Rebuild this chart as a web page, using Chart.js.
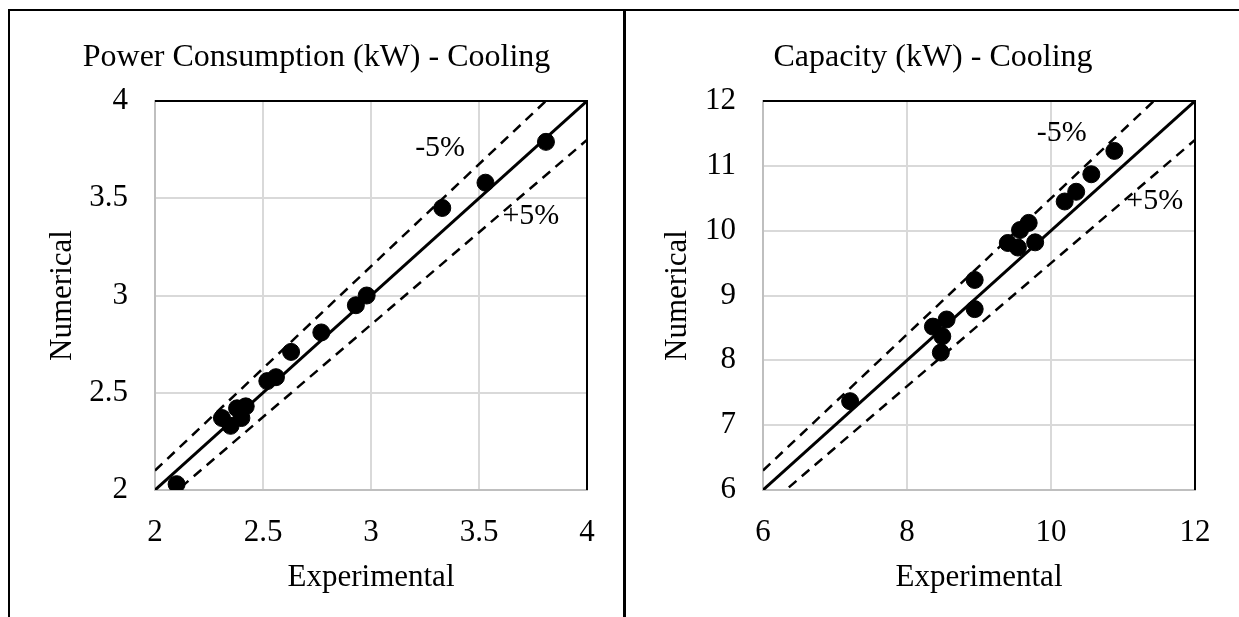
<!DOCTYPE html>
<html>
<head>
<meta charset="utf-8">
<script src="https://cdn.jsdelivr.net/npm/chart.js@4.4.0/dist/chart.umd.min.js"></script>
<style>
    html, body { margin: 0; padding: 0; background: #fff; }
    body { width: 1239px; height: 617px; position: relative; overflow: hidden; }
    .rule { position: absolute; background: #000; }
    .panel { position: absolute; top: 11px; }
</style>
</head>
<body>
<div class="rule" style="left:8px; top:9px; width:1231px; height:2px;"></div>
<div class="rule" style="left:8px; top:9px; width:2px; height:608px;"></div>
<div class="rule" style="left:623px; top:9px; width:3px; height:608px;"></div>

<div class="panel" style="left:10px;"><canvas id="powerChart" width="613" height="606"></canvas></div>
<div class="panel" style="left:627px;"><canvas id="capacityChart" width="612" height="606"></canvas></div>

<script>
// Power consumption (kW) - cooling
const powerExperimental = [2.10, 2.31, 2.35, 2.38, 2.40, 2.42, 2.52, 2.56, 2.63, 2.77, 2.93, 2.98, 3.33, 3.53, 3.81];
const powerNumerical    = [2.03, 2.37, 2.33, 2.42, 2.37, 2.43, 2.56, 2.58, 2.71, 2.81, 2.95, 3.00, 3.45, 3.58, 3.79];
const powerTicks = [2, 2.5, 3, 3.5, 4];
const powerTickLabels = ['2', '2.5', '3', '3.5', '4'];
const powerIdeal = [{ x: 2, y: 2 }, { x: 4, y: 4 }];
const powerMinus5 = [{ x: 2, y: 2.1 }, { x: 4, y: 4.2 }];
const powerPlus5 = [{ x: 2, y: 1.9 }, { x: 4, y: 3.8 }];
const powerLabels = [{ text: '-5%', x: 3.32, y: 3.76 }, { text: '+5%', x: 3.74, y: 3.41 }];

// Capacity (kW) - cooling
const capacityExperimental = [7.21, 8.36, 8.55, 8.49, 8.47, 8.94, 8.94, 9.40, 9.54, 9.57, 9.69, 9.78, 10.19, 10.35, 10.56, 10.88];
const capacityNumerical    = [7.37, 8.52, 8.63, 8.37, 8.12, 9.24, 8.79, 9.81, 9.74, 10.01, 10.12, 9.82, 10.45, 10.60, 10.87, 11.23];
const capacityXTicks = [6, 8, 10, 12];
const capacityXTickLabels = ['6', '8', '10', '12'];
const capacityYTicks = [6, 7, 8, 9, 10, 11, 12];
const capacityYTickLabels = ['6', '7', '8', '9', '10', '11', '12'];
const capacityIdeal = [{ x: 6, y: 6 }, { x: 12, y: 12 }];
const capacityMinus5 = [{ x: 6, y: 6.3 }, { x: 12, y: 12.6 }];
const capacityPlus5 = [{ x: 6, y: 5.7 }, { x: 12, y: 11.4 }];
const capacityLabels = [{ text: '-5%', x: 10.15, y: 11.51 }, { text: '+5%', x: 11.44, y: 10.46 }];

const SERIF = "'Liberation Serif', 'Times New Roman', serif";
Chart.defaults.font.family = SERIF;
Chart.defaults.color = '#000';

// top and right edges of the plot area are black in the original
const plotFrame = {
    id: 'plotFrame',
    beforeDatasetsDraw(chart) {
        const { ctx, chartArea: a } = chart;
        ctx.save();
        ctx.strokeStyle = '#000';
        ctx.lineWidth = 2;
        ctx.beginPath();
        ctx.moveTo(a.left, a.top);
        ctx.lineTo(a.right, a.top);
        ctx.lineTo(a.right, a.bottom);
        ctx.stroke();
        ctx.restore();
    }
};

// "-5%" / "+5%" text placed in data coordinates
const bandLabels = {
    id: 'bandLabels',
    afterDatasetsDraw(chart, args, opts) {
        const { ctx, scales } = chart;
        ctx.save();
        ctx.font = '30px ' + SERIF;
        ctx.fillStyle = '#000';
        ctx.textAlign = 'center';
        ctx.textBaseline = 'middle';
        (opts.items || []).forEach(l => {
            ctx.fillText(l.text, scales.x.getPixelForValue(l.x), scales.y.getPixelForValue(l.y));
        });
        ctx.restore();
    }
};

function lineSet(data, dashed) {
    return {
        type: 'line',
        data: data,
        borderColor: '#000',
        borderWidth: dashed ? 2.5 : 3,
        borderDash: dashed ? [10, 7] : [],
        pointRadius: 0,
        fill: false,
        tension: 0
    };
}

function makeChart(id, cfg) {
    const points = cfg.xs.map((x, i) => ({ x: x, y: cfg.ys[i] }));
    return new Chart(document.getElementById(id), {
        type: 'scatter',
        data: {
            datasets: [
                {
                    data: points,
                    backgroundColor: '#000',
                    borderColor: '#000',
                    pointRadius: 8.5,
                    pointHoverRadius: 8.5
                },
                lineSet(cfg.ideal, false),
                lineSet(cfg.minus5, true),
                lineSet(cfg.plus5, true)
            ]
        },
        options: {
            responsive: false,
            animation: false,
            events: [],
            plugins: {
                legend: { display: false },
                tooltip: { enabled: false },
                title: {
                    display: true,
                    text: cfg.title,
                    color: '#000',
                    font: { size: 32, weight: 'normal', lineHeight: 1.2 },
                    padding: { top: 27, bottom: 24.6 }
                },
                bandLabels: { items: cfg.labels }
            },
            scales: {
                x: {
                    type: 'linear',
                    min: cfg.xTicks[0],
                    max: cfg.xTicks[cfg.xTicks.length - 1],
                    afterBuildTicks: s => { s.ticks = cfg.xTicks.map(v => ({ value: v })); },
                    afterFit: s => { s.height = 127; },
                    ticks: {
                        font: { size: 31 }, padding: 24, color: '#000', maxRotation: 0,
                        callback: (v, i) => cfg.xTickLabels[i]
                    },
                    grid: { color: '#d9d9d9', lineWidth: 2, drawTicks: false },
                    border: { color: '#bfbfbf', width: 2 },
                    title: {
                        display: true,
                        text: 'Experimental',
                        color: '#000',
                        font: { size: 31, lineHeight: 1.2 },
                        padding: { bottom: 20.4 }
                    }
                },
                y: {
                    type: 'linear',
                    min: cfg.yTicks[0],
                    max: cfg.yTicks[cfg.yTicks.length - 1],
                    afterBuildTicks: s => { s.ticks = cfg.yTicks.map(v => ({ value: v })); },
                    afterFit: s => { s.width = cfg.yWidth; },
                    ticks: {
                        font: { size: 31 }, padding: 27, color: '#000',
                        callback: (v, i) => cfg.yTickLabels[i]
                    },
                    grid: { color: '#d9d9d9', lineWidth: 2, drawTicks: false },
                    border: { color: '#bfbfbf', width: 2 },
                    title: {
                        display: true,
                        text: 'Numerical',
                        color: '#000',
                        font: { size: 31, lineHeight: 1.2 },
                        padding: { top: cfg.yTitlePad }
                    }
                },
                // empty right-hand gutter, so the title stays centred on the panel
                gutter: {
                    type: 'linear',
                    position: 'right',
                    display: true,
                    ticks: { display: false },
                    grid: { display: false, drawTicks: false },
                    border: { display: false },
                    afterFit: s => { s.width = cfg.padRight; }
                }
            }
        },
        plugins: [plotFrame, bandLabels]
    });
}

makeChart('powerChart', {
    title: 'Power Consumption (kW) - Cooling',
    xs: powerExperimental,
    ys: powerNumerical,
    xTicks: powerTicks,
    xTickLabels: powerTickLabels,
    yTicks: powerTicks,
    yTickLabels: powerTickLabels,
    ideal: powerIdeal,
    minus5: powerMinus5,
    plus5: powerPlus5,
    labels: powerLabels,
    yWidth: 145,
    yTitlePad: 33.9,
    padRight: 36
});

makeChart('capacityChart', {
    title: 'Capacity (kW) - Cooling',
    xs: capacityExperimental,
    ys: capacityNumerical,
    xTicks: capacityXTicks,
    xTickLabels: capacityXTickLabels,
    yTicks: capacityYTicks,
    yTickLabels: capacityYTickLabels,
    ideal: capacityIdeal,
    minus5: capacityMinus5,
    plus5: capacityPlus5,
    labels: capacityLabels,
    yWidth: 136,
    yTitlePad: 32.4,
    padRight: 44
});
</script>
</body>
</html>
